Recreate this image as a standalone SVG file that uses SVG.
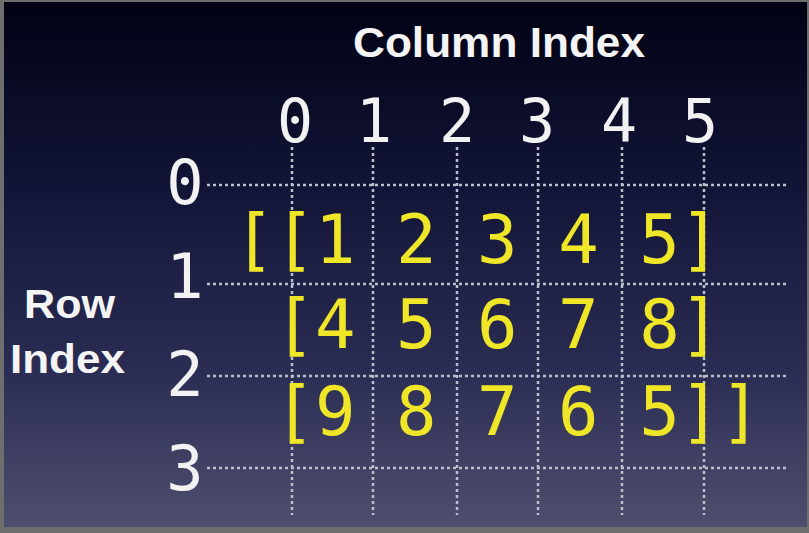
<svg xmlns="http://www.w3.org/2000/svg" width="809" height="533" viewBox="0 0 809 533">
  <defs>
    <linearGradient id="bg" x1="0" y1="0" x2="0" y2="1">
      <stop offset="0" stop-color="#020214"/>
      <stop offset="0.35" stop-color="#121437"/>
      <stop offset="0.7" stop-color="#2b2c53"/>
      <stop offset="1" stop-color="#4e4f6e"/>
    </linearGradient>
  </defs>
  <style>
    .lbl { font-family: "Liberation Sans", Arial, sans-serif; font-weight: bold; fill: #f4f4f4; }
    .idx { font-family: "DejaVu Sans Mono", "Liberation Mono", monospace; fill: #f2f2f2; text-anchor: middle; }
    .mat { font-family: "DejaVu Sans Mono", "Liberation Mono", monospace; fill: #f0e628; font-size: 67.3px; }
    .dot { stroke: #bdbecb; stroke-width: 2.5; stroke-dasharray: 3 3; fill: none; }
  </style>
  <rect x="0" y="0" width="809" height="533" fill="#6e6e6e"/>
  <rect x="4" y="2" width="803" height="525" fill="url(#bg)"/>

  <g id="grid">
    <line class="dot" x1="292" y1="147" x2="292" y2="515"/>
    <line class="dot" x1="373" y1="147" x2="373" y2="515"/>
    <line class="dot" x1="457" y1="147" x2="457" y2="515"/>
    <line class="dot" x1="538" y1="147" x2="538" y2="515"/>
    <line class="dot" x1="622" y1="147" x2="622" y2="515"/>
    <line class="dot" x1="704" y1="147" x2="704" y2="515"/>
    <line class="dot" x1="207" y1="185" x2="788" y2="185"/>
    <line class="dot" x1="207" y1="284" x2="788" y2="284"/>
    <line class="dot" x1="207" y1="376" x2="788" y2="376"/>
    <line class="dot" x1="207" y1="468" x2="788" y2="468"/>
  </g>

  <g id="column-title">
    <text class="lbl" x="353" y="57" font-size="43" textLength="292" lengthAdjust="spacingAndGlyphs">Column Index</text>
  </g>
  <g id="row-title">
    <text class="lbl" x="24" y="318" font-size="40" textLength="91" lengthAdjust="spacingAndGlyphs">Row</text>
    <text class="lbl" x="10" y="373" font-size="40" textLength="115" lengthAdjust="spacingAndGlyphs">Index</text>
  </g>

  <g id="column-indices" font-size="60">
    <text class="idx" x="295" y="142">0</text>
    <text class="idx" x="374" y="142">1</text>
    <text class="idx" x="457" y="142">2</text>
    <text class="idx" x="537" y="142">3</text>
    <text class="idx" x="619" y="142">4</text>
    <text class="idx" x="700" y="142">5</text>
  </g>

  <g id="row-indices" font-size="62">
    <text class="idx" x="185" y="204">0</text>
    <text class="idx" x="185" y="298">1</text>
    <text class="idx" x="185" y="396">2</text>
    <text class="idx" x="185" y="490">3</text>
  </g>

  <g id="matrix">
    <text class="mat" x="234" y="263">[[1 2 3 4 5]</text>
    <text class="mat" x="274.5" y="348">[4 5 6 7 8]</text>
    <text class="mat" x="274.5" y="435">[9 8 7 6 5]]</text>
  </g>
</svg>
